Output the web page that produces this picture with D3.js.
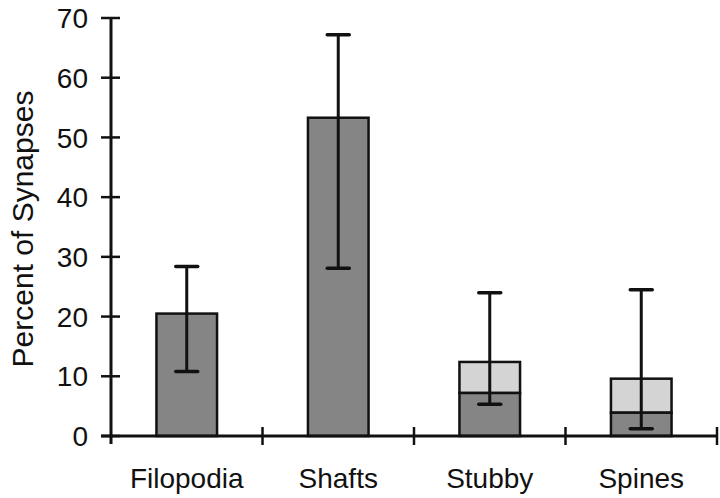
<html>
<head>
    <script src="https://d3js.org/d3.v7.min.js" charset="utf-8"></script>
    <style>
        body { margin: 0; background: #fff; }
        .tick-label { font-family: "Liberation Sans", Arial, sans-serif; font-size: 28px; fill: #111; }
        .axis-title { font-family: "Liberation Sans", Arial, sans-serif; font-size: 30px; fill: #111; }
    </style>
</head>
<body>
<div id="chart"></div>
<script>
    // categories and values
    const categories = ["Filopodia", "Shafts", "Stubby", "Spines"];
    const darkValues = [20.5, 53.3, 7.2, 3.9];      // lower (dark) segment
    const totalValues = [20.5, 53.3, 12.4, 9.6];    // total bar height
    const errHigh = [28.4, 67.2, 24.0, 24.5];
    const errLow = [10.8, 28.1, 5.3, 1.2];
    const yTicks = [0, 10, 20, 30, 40, 50, 60, 70];

    const width = 720, height = 498;
    const margin = {left: 111, right: 3, top: 18, bottom: 62};

    const svg = d3.select("#chart").append("svg")
        .attr("width", width)
        .attr("height", height);

    const x = d3.scaleBand()
        .domain(categories)
        .range([margin.left, width - margin.right])
        .paddingInner(0.6)
        .paddingOuter(0.3);

    const y = d3.scaleLinear()
        .domain([0, 70])
        .range([height - margin.bottom, margin.top]);

    const dark = "#858585", light = "#d4d4d4";

    const data = categories.map((c, i) => ({cat: c, dark: darkValues[i], total: totalValues[i], hi: errHigh[i], lo: errLow[i]}));

    // light upper segment
    svg.selectAll(".upper")
        .data(data.filter(d => d.total > d.dark))
        .enter().append("rect")
        .attr("x", d => x(d.cat))
        .attr("width", x.bandwidth())
        .attr("y", d => y(d.total))
        .attr("height", d => y(d.dark) - y(d.total))
        .attr("fill", light)
        .attr("stroke", "#111")
        .attr("stroke-width", 2.5);

    // dark lower segment
    svg.selectAll(".lower")
        .data(data)
        .enter().append("rect")
        .attr("x", d => x(d.cat))
        .attr("width", x.bandwidth())
        .attr("y", d => y(d.dark))
        .attr("height", d => y(0) - y(d.dark))
        .attr("fill", dark)
        .attr("stroke", "#111")
        .attr("stroke-width", 2.5);

    // error bars
    const eb = svg.selectAll(".err").data(data).enter().append("g");
    const cx = d => x(d.cat) + x.bandwidth() / 2;
    eb.append("line")
        .attr("x1", cx).attr("x2", cx)
        .attr("y1", d => y(d.hi)).attr("y2", d => y(d.lo))
        .attr("stroke", "#111").attr("stroke-width", 3);
    eb.append("line")
        .attr("x1", d => cx(d) - 11).attr("x2", d => cx(d) + 11)
        .attr("y1", d => y(d.hi)).attr("y2", d => y(d.hi))
        .attr("stroke", "#111").attr("stroke-width", 3.5).attr("stroke-linecap", "round");
    eb.append("line")
        .attr("x1", d => cx(d) - 11).attr("x2", d => cx(d) + 11)
        .attr("y1", d => y(d.lo)).attr("y2", d => y(d.lo))
        .attr("stroke", "#111").attr("stroke-width", 3.5).attr("stroke-linecap", "round");

    // y axis
    const yAxis = svg.append("g");
    yAxis.append("line")
        .attr("x1", margin.left).attr("x2", margin.left)
        .attr("y1", y(70)).attr("y2", y(0) + 8)
        .attr("stroke", "#111").attr("stroke-width", 3);
    yAxis.selectAll(".yt").data(yTicks).enter().append("line")
        .attr("x1", margin.left - 10).attr("x2", margin.left + 9)
        .attr("y1", d => y(d)).attr("y2", d => y(d))
        .attr("stroke", "#111").attr("stroke-width", 2.5);
    yAxis.selectAll(".yl").data(yTicks).enter().append("text")
        .attr("class", "tick-label")
        .attr("x", margin.left - 23)
        .attr("y", d => y(d))
        .attr("dy", "0.36em")
        .attr("text-anchor", "end")
        .text(d => d);

    // x axis with ticks between categories
    const xAxis = svg.append("g");
    xAxis.append("line")
        .attr("x1", margin.left - 10).attr("x2", width - margin.right)
        .attr("y1", y(0)).attr("y2", y(0))
        .attr("stroke", "#111").attr("stroke-width", 3);
    const step = x.step();
    const bounds = categories.map((c, i) => x(c) + x.bandwidth() / 2 + step / 2);
    xAxis.selectAll(".xt").data(bounds).enter().append("line")
        .attr("x1", d => d).attr("x2", d => d)
        .attr("y1", y(0) - 9).attr("y2", y(0) + 9)
        .attr("stroke", "#111").attr("stroke-width", 2.5);
    xAxis.selectAll(".xl").data(categories).enter().append("text")
        .attr("class", "tick-label")
        .attr("x", d => x(d) + x.bandwidth() / 2)
        .attr("y", 488)
        .attr("text-anchor", "middle")
        .text(d => d);

    svg.append("text")
        .attr("class", "axis-title")
        .attr("transform", "translate(33," + 229 + ") rotate(-90)")
        .attr("text-anchor", "middle")
        .text("Percent of Synapses");
</script>
</body>
</html>
